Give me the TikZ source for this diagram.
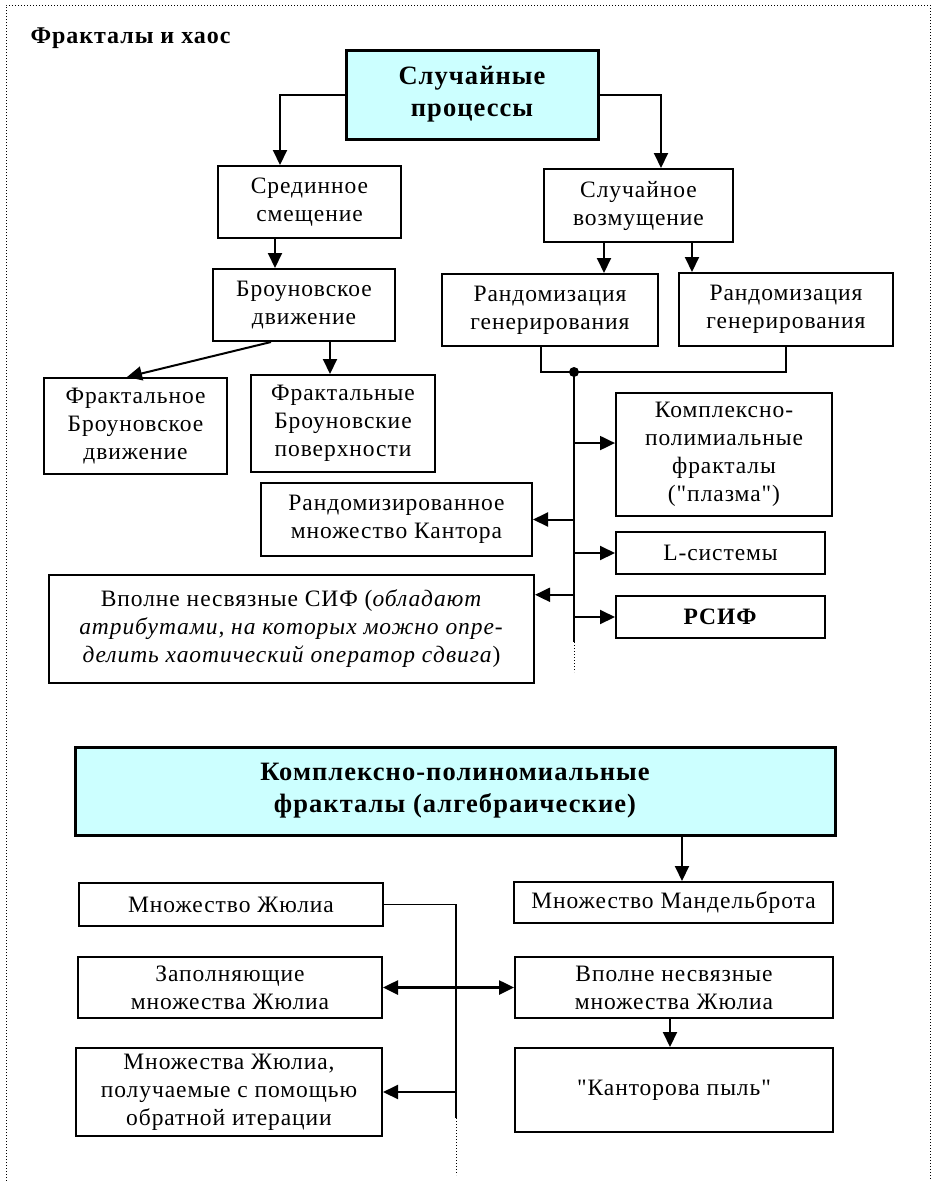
\documentclass[tikz,border=0pt]{standalone}
\usepackage{fontspec}
\newfontfamily\treefont{Liberation Serif}[LetterSpace=4]
\usetikzlibrary{arrows.meta,calc}
\definecolor{boxcyan}{HTML}{CCFFFF}

\begin{document}
\begin{tikzpicture}[
  x=1pt, y=-1pt,
  box/.style={draw, line width=2pt, inner sep=0pt, align=center,
    font=\treefont\fontsize{23.5}{28}\selectfont},
  headbox/.style={box, fill=boxcyan, line width=3pt,
    font=\treefont\fontsize{26.5}{32}\selectfont\bfseries},
  arr/.style={line width=2pt, -{Triangle[length=15pt,width=14pt]}},
  dblarr/.style={line width=2.6pt, {Triangle[length=15pt,width=14pt]}-{Triangle[length=15pt,width=14pt]}}
]
  \useasboundingbox (0,0) rectangle (935,1181);
  \draw[dotted, line width=1pt] (6,1181) -- (6,5) -- (930,5) -- (930,1181);

  \node[anchor=west, font=\treefont\fontsize{24}{28}\selectfont\bfseries] (title) at (27,38) {Фракталы и хаос};

  % random processes
  \node[headbox, minimum width=252, minimum height=89] (sp) at (472,94.5) {Случайные\\процессы};
  \node[box, minimum width=183, minimum height=72] (sm)  at (309.5,202)   {Срединное\\смещение};
  \node[box, minimum width=189, minimum height=73] (vz)  at (638.5,205.5) {Случайное\\возмущение};
  \node[box, minimum width=182, minimum height=72] (bd)  at (304,305)     {Броуновское\\движение};
  \node[box, minimum width=216, minimum height=72] (rg1) at (550,310)     {Рандомизация\\генерирования};
  \node[box, minimum width=214, minimum height=73] (rg2) at (786,309.5)   {Рандомизация\\генерирования};
  \node[box, minimum width=183, minimum height=96] (fbd) at (135.5,426)   {Фрактальное\\Броуновское\\движение};
  \node[box, minimum width=184, minimum height=97] (fbp) at (343,423.5)   {Фрактальные\\Броуновские\\поверхности};
  \node[box, minimum width=216, minimum height=123] (kpf) at (724,454.5)  {Комплексно-\\полимиальные\\фракталы\\("плазма")};
  \node[box, minimum width=271, minimum height=73] (rmk) at (396.5,519.5) {Рандомизированное\\множество Кантора};
  \node[box, minimum width=209, minimum height=42] (ls)  at (720.5,553)   {L-системы};
  \node[box, minimum width=485, minimum height=108] (vns) at (291.5,629)  {Вполне несвязные СИФ (\textit{обладают}\\\textit{атрибутами, на которых можно опре-}\\\textit{делить хаотический оператор сдвига})};
  \node[box, minimum width=209, minimum height=42] (rsif) at (720.5,617)  {\textbf{РСИФ}};

  \draw[arr] (sp.west) -| ([xshift=-29.5pt]sm.north);
  \draw[arr] (sp.east) -| ([xshift=22.5pt]vz.north);
  \coordinate (smb) at ([xshift=-34.5pt]sm.south);
  \draw[arr] (smb) -- (smb |- bd.north);
  \coordinate (vzl) at ([xshift=-34.5pt]vz.south);
  \coordinate (vzr) at ([xshift=53.5pt]vz.south);
  \draw[arr] (vzl) -- (vzl |- rg1.north);
  \draw[arr] (vzr) -- (vzr |- rg2.north);
  \draw[arr] ([xshift=-33pt]bd.south) -- ([xshift=-8.5pt]fbd.north);
  \coordinate (bdr) at ([xshift=26pt]bd.south);
  \draw[arr] (bdr) -- (bdr |- fbp.north);

  % bracket and spine
  \coordinate (jn) at (574,372);
  \coordinate (spend) at (574,642);
  \coordinate (spdot) at (574,672);
  \draw[line width=2pt] ([xshift=-9pt]rg1.south) |- (jn) -| (rg2.south);
  \draw[line width=2pt] (jn) -- (spend);
  \draw[dotted, line width=1pt] (spend) -- (spdot);
  \fill (jn) circle (5);
  \draw[arr] (kpf.174 -| jn) -- (kpf.174);
  \draw[arr] (rmk.east -| jn) -- (rmk.east);
  \draw[arr] (ls.west -| jn) -- (ls.west);
  \draw[arr] (vns.8 -| jn) -- (vns.8);
  \draw[arr] (rsif.west -| jn) -- (rsif.west);

  % complex polynomial fractals
  \node[headbox, minimum width=760, minimum height=88] (kpa) at (455,791) {Комплексно-полиномиальные\\фракталы (алгебраические)};
  \node[box, minimum width=319, minimum height=41] (mm)  at (673.5,902.5) {Множество Мандельброта};
  \node[box, minimum width=304, minimum height=43] (mj)  at (231,904.5)   {Множество Жюлиа};
  \node[box, minimum width=304, minimum height=61] (zmj) at (230,987.5)   {Заполняющие\\множества Жюлиа};
  \node[box, minimum width=318, minimum height=61] (vnj) at (674,987.5)   {Вполне несвязные\\множества Жюлиа};
  \node[box, minimum width=318, minimum height=84] (kp)  at (674,1090)    {"Канторова пыль"};
  \node[box, minimum width=306, minimum height=88] (mjo) at (229,1092)    {Множества Жюлиа,\\получаемые с помощью\\обратной итерации};

  \coordinate (mmt) at ([xshift=8.5pt]mm.north);
  \draw[arr] (kpa.south -| mmt) -- (mmt);
  \coordinate (jl) at (456,1118);
  \coordinate (jldot) at (456,1175);
  \draw[line width=1.4pt] (mj.east) -| (jl);
  \draw[dotted, line width=1pt] (jl) -- (jldot);
  \draw[dblarr] (zmj.east) -- (vnj.west);
  \draw[arr] ([xshift=-4pt]vnj.south) -- ([xshift=-4pt]kp.north);
  \draw[arr] (mjo.east -| jl) -- (mjo.east);
\end{tikzpicture}
\end{document}
